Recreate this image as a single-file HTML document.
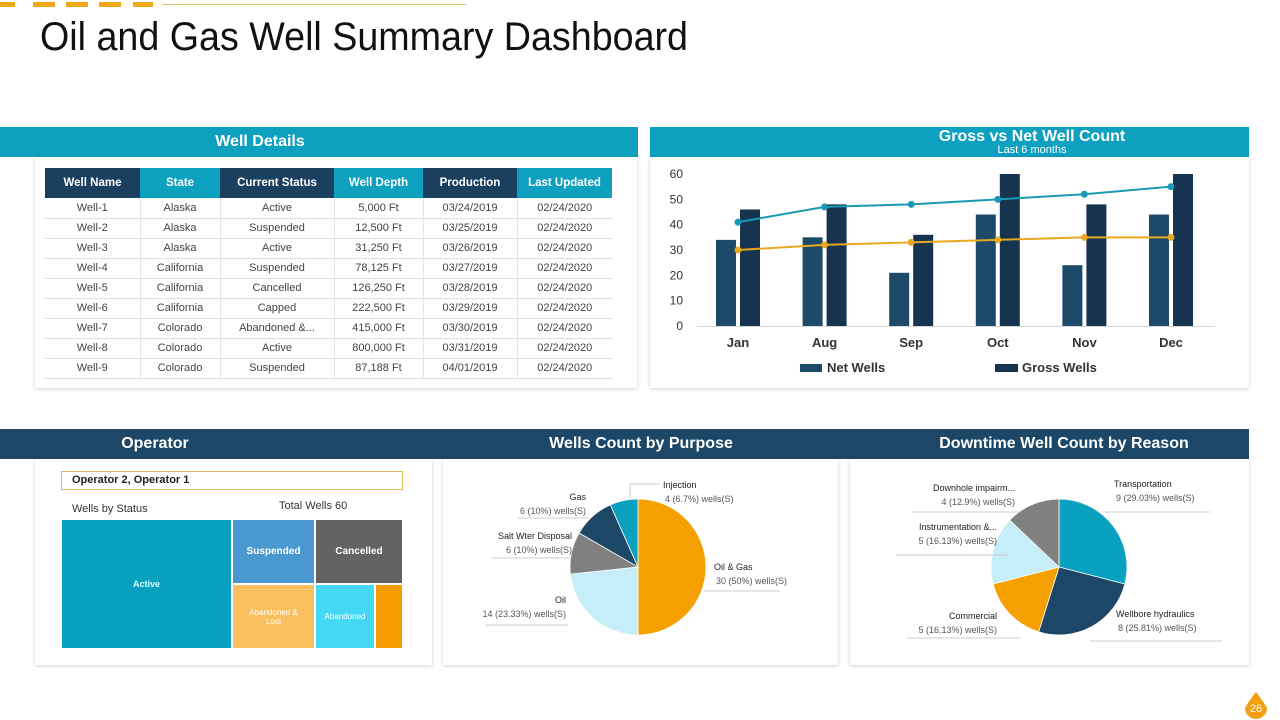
<!DOCTYPE html>
<html><head><meta charset="utf-8"><style>
*{margin:0;padding:0;box-sizing:border-box}
body{width:1280px;height:720px;position:relative;background:#fff;font-family:"Liberation Sans",sans-serif;overflow:hidden}
.abs{position:absolute}
.bar{position:absolute;color:#fff;font-weight:bold;font-size:16px;display:flex;align-items:center;justify-content:center;white-space:nowrap}
.card{position:absolute;background:#fff;box-shadow:0 1px 4px rgba(0,0,0,.18)}
table{border-collapse:collapse;position:absolute;left:45px;top:168px;width:567px;font-size:11px;color:#444}
th{height:30px;color:#fff;font-size:11.5px;font-weight:bold}
td{height:20px;text-align:center;border-bottom:1px solid #ddd;border-right:1px solid #e4e4e4}
td:last-child{border-right:none}
</style></head><body>
<svg class="abs" style="left:0;top:0" width="700" height="60">
<rect x="0" y="2" width="15" height="5" fill="#f0a818"/><rect x="33" y="2" width="22" height="5" fill="#f0a818"/><rect x="66" y="2" width="22" height="5" fill="#f0a818"/><rect x="99" y="2" width="22" height="5" fill="#f0a818"/><rect x="133" y="2" width="20" height="5" fill="#f0a818"/>
<line x1="162" y1="4.5" x2="466" y2="4.5" stroke="#e8c070" stroke-width="1"/>
<text x="40" y="50" font-size="40" fill="#111" textLength="648" lengthAdjust="spacingAndGlyphs">Oil and Gas Well Summary Dashboard</text>
</svg>

<div class="bar" style="left:0;top:127px;width:638px;height:30px;background:#0ea0bf"><span style="margin-left:-118px">Well Details</span></div>
<div class="bar" style="left:650px;top:127px;width:599px;height:30px;background:#0ea0bf;flex-direction:column;justify-content:flex-start;padding-top:1px;padding-left:165px"><span>Gross vs Net Well Count</span><span style="font-size:11px;font-weight:normal;margin-top:-2px">Last 6 months</span></div>

<div class="card" style="left:35px;top:157px;width:602px;height:231px"></div>
<table>
<tr><th style="background:#1b3f5e;width:95px">Well Name</th><th style="background:#0ea0bf;width:80px">State</th><th style="background:#1b3f5e;width:114px">Current Status</th><th style="background:#0ea0bf;width:89px">Well Depth</th><th style="background:#1b3f5e;width:94px">Production</th><th style="background:#0ea0bf;width:95px">Last Updated</th></tr>
<tr><td>Well-1</td><td>Alaska</td><td>Active</td><td>5,000 Ft</td><td>03/24/2019</td><td>02/24/2020</td></tr>
<tr><td>Well-2</td><td>Alaska</td><td>Suspended</td><td>12,500 Ft</td><td>03/25/2019</td><td>02/24/2020</td></tr>
<tr><td>Well-3</td><td>Alaska</td><td>Active</td><td>31,250 Ft</td><td>03/26/2019</td><td>02/24/2020</td></tr>
<tr><td>Well-4</td><td>California</td><td>Suspended</td><td>78,125 Ft</td><td>03/27/2019</td><td>02/24/2020</td></tr>
<tr><td>Well-5</td><td>California</td><td>Cancelled</td><td>126,250 Ft</td><td>03/28/2019</td><td>02/24/2020</td></tr>
<tr><td>Well-6</td><td>California</td><td>Capped</td><td>222,500 Ft</td><td>03/29/2019</td><td>02/24/2020</td></tr>
<tr><td>Well-7</td><td>Colorado</td><td>Abandoned &amp;...</td><td>415,000 Ft</td><td>03/30/2019</td><td>02/24/2020</td></tr>
<tr><td>Well-8</td><td>Colorado</td><td>Active</td><td>800,000 Ft</td><td>03/31/2019</td><td>02/24/2020</td></tr>
<tr><td>Well-9</td><td>Colorado</td><td>Suspended</td><td>87,188 Ft</td><td>04/01/2019</td><td>02/24/2020</td></tr>
</table>

<div class="card" style="left:650px;top:157px;width:599px;height:231px"></div>
<svg id="chart" class="abs" style="left:650px;top:157px" width="599" height="231"></svg>

<div class="bar" style="left:0;top:429px;width:1249px;height:30px;background:#1c4766">
<span class="abs" style="left:155px;transform:translateX(-50%)">Operator</span>
<span class="abs" style="left:641px;transform:translateX(-50%)">Wells Count by Purpose</span>
<span class="abs" style="left:1064px;transform:translateX(-50%)">Downtime Well Count by Reason</span>
</div>

<div class="card" style="left:35px;top:459px;width:397px;height:206px"></div>
<div class="abs" style="left:61px;top:471px;width:342px;height:19px;border:1px solid #e0b860;font-size:11px;font-weight:bold;color:#222;padding:2px 0 0 10px">Operator 2, Operator 1</div>
<div class="abs" style="left:72px;top:503px;font-size:11px;color:#333">Wells by Status</div>
<div class="abs" style="left:279px;top:500px;font-size:11px;color:#333">Total Wells 60</div>
<div class="abs" style="left:62px;top:520px;width:169px;height:128px;background:#0aa0bf;color:#dff;font-size:9px;font-weight:bold;display:flex;align-items:center;justify-content:center">Active</div>
<div class="abs" style="left:233px;top:520px;width:81px;height:63px;background:#4a98d0;color:#fff;font-size:10px;font-weight:bold;display:flex;align-items:center;justify-content:center">Suspended</div>
<div class="abs" style="left:316px;top:520px;width:86px;height:63px;background:#636363;color:#fff;font-size:10px;font-weight:bold;display:flex;align-items:center;justify-content:center">Cancelled</div>
<div class="abs" style="left:233px;top:585px;width:81px;height:63px;background:#f9c060;color:#fff;font-size:8px;text-align:center;display:flex;align-items:center;justify-content:center;line-height:9px">Abandoned &amp;<br>Lost</div>
<div class="abs" style="left:316px;top:585px;width:58px;height:63px;background:#45d8f5;color:#fff;font-size:8px;display:flex;align-items:center;justify-content:center">Abandoned</div>
<div class="abs" style="left:376px;top:585px;width:26px;height:63px;background:#f59c00"></div>

<div class="card" style="left:443px;top:459px;width:395px;height:206px"></div>
<div class="card" style="left:850px;top:459px;width:399px;height:206px"></div>
<svg id="pies" class="abs" style="left:0;top:0" width="1280" height="720"></svg>

<svg class="abs" style="left:1242px;top:690px" width="28" height="30">
<path d="M14 2 Q22 12 25 18 A11 11 0 1 1 3 18 Q6 12 14 2Z" fill="#f0a010"/>
<text x="14" y="22" font-size="11" fill="#fff" text-anchor="middle">26</text></svg>

<script>
const months=["Jan","Aug","Sep","Oct","Nov","Dec"];
const netWells=[34,35,21,44,24,44];
const grossWells=[46,48,36,60,48,60];
const tealLine=[41,47,48,50,52,55];
const orangeLine=[30,32,33,34,35,35];
const yTicks=[0,10,20,30,40,50,60];

const purposeLabels=["Oil & Gas","Oil","Salt Wter Disposal","Gas","Injection"];
const purposeValues=[30,14,6,6,4];
const purposeText=["30 (50%) wells(S)","14 (23.33%) wells(S)","6 (10%) wells(S)","6 (10%) wells(S)","4 (6.7%) wells(S)"];
const downLabels=["Transportation","Wellbore hydraulics","Commercial","Instrumentation &...","Downhole impairm..."];
const downValues=[9,8,5,5,4];
const downText=["9 (29.03%) wells(S)","8 (25.81%) wells(S)","5 (16.13%) wells(S)","5 (16.13%) wells(S)","4 (12.9%) wells(S)"];

const NS="http://www.w3.org/2000/svg";
function mk(p,tag,attrs,txt){const e=document.createElementNS(NS,tag);for(const k in attrs)e.setAttribute(k,attrs[k]);if(txt!==undefined)e.textContent=txt;p.appendChild(e);return e;}

const ch=document.getElementById('chart');
const y=v=>169-v*(152/60);
const x=i=>88+i*86.6;
yTicks.forEach(t=>{const e=mk(ch,'text',{x:33,y:y(t)+4,'font-size':12,fill:'#333','text-anchor':'end'},t);

});
mk(ch,'line',{x1:47,x2:565,y1:169.5,y2:169.5,stroke:'#d8d8d8'});
months.forEach((m,i)=>{
 const a=mk(ch,'rect',{x:x(i)-22,y:y(netWells[i]),width:20,height:y(0)-y(netWells[i]),fill:'#1e4a6a'});
 
 
 const b=mk(ch,'rect',{x:x(i)+2,y:y(grossWells[i]),width:20,height:y(0)-y(grossWells[i]),fill:'#16334f'});
 
 
 const t=mk(ch,'text',{x:x(i),y:190,'font-size':13,'font-weight':'bold',fill:'#333','text-anchor':'middle'},m);
 
 
});
[[tealLine,'#1a9bb5','teal-line'],[orangeLine,'#e8a820','orange-line']].forEach(([arr,c,n])=>{
 const pl=mk(ch,'polyline',{points:arr.map((v,i)=>x(i)+','+y(v)).join(' '),fill:'none',stroke:c,'stroke-width':2});
 
 
 arr.forEach((v,i)=>{const p=mk(ch,'circle',{cx:x(i),cy:y(v),r:3.5,fill:c});
 
 });
});
mk(ch,'rect',{x:150,y:207,width:22,height:8,fill:'#1e4a6a'});
const l1=mk(ch,'text',{x:177,y:215,'font-size':13,'font-weight':'bold',fill:'#333'},'Net Wells');


mk(ch,'rect',{x:345,y:207,width:23,height:8,fill:'#16334f'});
const l2=mk(ch,'text',{x:372,y:215,'font-size':13,'font-weight':'bold',fill:'#333'},'Gross Wells');



const pies=document.getElementById('pies');
function pie(cx,cy,r,vals,colors,name){
 const tot=vals.reduce((a,b)=>a+b,0);let a0=-Math.PI/2;
 vals.forEach((v,i)=>{const a1=a0+v/tot*2*Math.PI;
  const p=mk(pies,'path',{d:`M${cx},${cy}L${cx+r*Math.cos(a0)},${cy+r*Math.sin(a0)}A${r},${r} 0 ${a1-a0>Math.PI?1:0} 1 ${cx+r*Math.cos(a1)},${cy+r*Math.sin(a1)}Z`,fill:colors[i],stroke:'#fff','stroke-width':0.8});
  
  
  a0=a1;});
}
pie(638,567,68,purposeValues,['#f5a000','#c5eef8','#808080','#1c4766','#0aa0bf'],'purpose');
pie(1059,567,68,downValues,['#0aa0bf','#1c4766','#f5a000','#c5eef8','#808080'],'downtime');

function lbl(tx,ty,t1,t2,anchor,lx1,lx2,ly,name){
 const a=mk(pies,'text',{x:tx,y:ty,'font-size':9,fill:'#222','text-anchor':anchor},t1);
 
 
 const b=mk(pies,'text',{x:anchor==='end'?tx:tx+2,y:ty+14,'font-size':9,fill:'#555','text-anchor':anchor},t2);
 
 
 mk(pies,'line',{x1:lx1,x2:lx2,y1:ly,y2:ly,stroke:'#ccc'});
}
lbl(663,488,purposeLabels[4],purposeText[4],'start',630,660,484,'injection');
mk(pies,'line',{x1:630,x2:630,y1:484,y2:498,stroke:'#ccc'});
lbl(586,500,purposeLabels[3],purposeText[3],'end',518,588,518,'gas');
lbl(572,539,purposeLabels[2],purposeText[2],'end',492,570,558,'salt-water');
lbl(566,603,purposeLabels[1],purposeText[1],'end',485,568,625,'oil');
lbl(714,570,purposeLabels[0],purposeText[0],'start',704,780,591,'oil-gas');
lbl(1114,487,downLabels[0],downText[0],'start',1105,1210,512,'transportation');
lbl(1116,617,downLabels[1],downText[1],'start',1090,1222,641,'wellbore');
lbl(997,619,downLabels[2],downText[2],'end',907,1020,638,'commercial');
lbl(997,530,downLabels[3],downText[3],'end',896,1008,555,'instrumentation');
lbl(1015,491,downLabels[4],downText[4],'end',912,1020,512,'downhole');
</script>
</body></html>
